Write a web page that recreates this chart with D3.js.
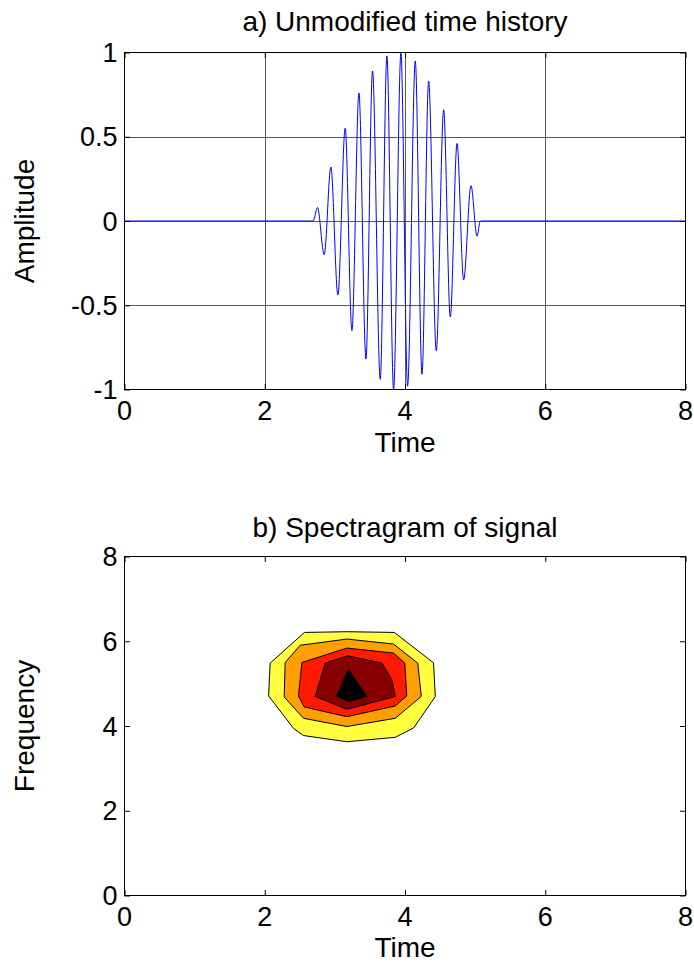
<!DOCTYPE html>
<html>
<head>
<meta charset="utf-8">
<script src="https://cdn.jsdelivr.net/npm/d3@7/dist/d3.min.js"></script>
<style>
  html, body { margin: 0; padding: 0; background: #fff; }
  svg { display: block; }
  text { font-family: "Liberation Sans", Arial, Helvetica, sans-serif; fill: #000; }
</style>
</head>
<body>
<svg id="fig" width="694" height="963"></svg>
<script>
// ---- Time history: turning points of the windowed 5 Hz burst ----
const signalTime = [0, 2.69, 2.752, 2.848, 2.943, 3.043, 3.147, 3.243, 3.343, 3.443,
  3.537, 3.647, 3.742, 3.837, 3.942, 4.037, 4.147, 4.242, 4.337, 4.446,
  4.551, 4.646, 4.742, 4.836, 4.941, 5.027, 5.074, 8];
const signalAmp = [0, 0, 0.08, -0.2, 0.32, -0.44, 0.55, -0.65, 0.76, -0.82,
  0.89, -0.94, 0.98, -1.0, 1.0, -0.98, 0.95, -0.91, 0.83, -0.77,
  0.66, -0.57, 0.46, -0.35, 0.21, -0.09, 0, 0];

// ---- Spectrogram: filled contour bands, outer (lowest level) to inner ----
const contourLevel1 = [[2.566, 6.208], [3.171, 6.225], [3.847, 6.208], [4.407, 5.491], [4.432, 4.694],
  [4.122, 3.953], [3.861, 3.733], [3.171, 3.628], [2.552, 3.775], [2.409, 3.946], [2.055, 4.710], [2.077, 5.484]];
const contourLevel2 = [[2.291, 5.498], [2.505, 5.905], [3.171, 6.052], [3.837, 5.934], [4.182, 5.484],
  [4.232, 4.698], [3.861, 4.182], [3.171, 3.988], [2.552, 4.182], [2.277, 4.686]];
const contourLevel3 = [[2.529, 5.498], [3.171, 5.839], [3.837, 5.721], [3.997, 5.484], [4.025, 4.710],
  [3.861, 4.473], [3.171, 4.220], [2.562, 4.450], [2.481, 4.710]];
const contourLevel4 = [[2.862, 5.484], [3.183, 5.657], [3.671, 5.484], [3.814, 5.089], [3.861, 4.698],
  [3.171, 4.395], [2.719, 4.698]];
const contourLevel5 = [[3.190, 5.342], [3.457, 4.698], [3.190, 4.575], [3.023, 4.710]];
const contourLevels = [contourLevel1, contourLevel2, contourLevel3, contourLevel4, contourLevel5];
const contourColors = ["#ffff40", "#ffa000", "#ff1a00", "#860000", "#000000"];

// ---- Axis ticks and text ----
const timeTicks = [0, 2, 4, 6, 8];
const ampTicks = [-1, -0.5, 0, 0.5, 1];
const freqTicks = [0, 2, 4, 6, 8];
const titleTop = "a) Unmodified time history";
const titleBottom = "b) Spectragram of signal";
const xLabel = "Time";
const yLabelTop = "Amplitude";
const yLabelBottom = "Frequency";

const svg = d3.select("#fig");
const tickFont = 27, labelFont = 28, tickLen = 5.5;

function makePanel(box, xDomain, yDomain, xTicks, yTicks, grid) {
  const x = d3.scaleLinear().domain(xDomain).range([box.x0, box.x1]);
  const y = d3.scaleLinear().domain(yDomain).range([box.y1, box.y0]);
  const g = svg.append("g");
  const clipId = "clip" + Math.round(box.y0);
  svg.append("clipPath").attr("id", clipId)
    .append("rect").attr("x", box.x0).attr("y", box.y0)
    .attr("width", box.x1 - box.x0).attr("height", box.y1 - box.y0);
  const gridG = g.append("g");
  if (grid) {
    gridG.selectAll("line.gx").data(xTicks.slice(1, -1)).join("line")
      .attr("x1", d => Math.round(x(d)) + 0.5).attr("x2", d => Math.round(x(d)) + 0.5)
      .attr("y1", box.y0).attr("y2", box.y1)
      .attr("stroke", "#5a5a5a").attr("stroke-width", 1);
    gridG.selectAll("line.gy").data(yTicks.slice(1, -1)).join("line")
      .attr("y1", d => Math.round(y(d)) + 0.5).attr("y2", d => Math.round(y(d)) + 0.5)
      .attr("x1", box.x0).attr("x2", box.x1)
      .attr("stroke", "#5a5a5a").attr("stroke-width", 1);
  }
  const plot = g.append("g").attr("clip-path", `url(#${clipId})`);
  const frame = g.append("g");
  // inward ticks on all four sides
  const axB = d3.axisTop(x).tickValues(xTicks).tickSize(tickLen).tickFormat("");
  const axT = d3.axisBottom(x).tickValues(xTicks).tickSize(tickLen).tickFormat("");
  const axL = d3.axisRight(y).tickValues(yTicks).tickSize(tickLen).tickFormat("");
  const axR = d3.axisLeft(y).tickValues(yTicks).tickSize(tickLen).tickFormat("");
  [[axB, `translate(0,${box.y1})`], [axT, `translate(0,${box.y0})`],
   [axL, `translate(${box.x0},0)`], [axR, `translate(${box.x1},0)`]].forEach(([ax, tr]) => {
    const a = frame.append("g").attr("transform", tr).call(ax);
    a.select(".domain").remove();
    a.selectAll("line").attr("stroke", "#000");
  });
  frame.append("rect").attr("x", box.x0).attr("y", box.y0)
    .attr("width", box.x1 - box.x0).attr("height", box.y1 - box.y0)
    .attr("fill", "none").attr("stroke", "#000").attr("stroke-width", 1);
  // tick labels
  frame.selectAll("text.xt").data(xTicks).join("text")
    .attr("x", d => x(d)).attr("y", box.y1 + 30.5)
    .attr("text-anchor", "middle").attr("font-size", tickFont)
    .text(d => String(d));
  frame.selectAll("text.yt").data(yTicks).join("text")
    .attr("x", box.x0 - 7).attr("y", d => y(d) + 0.36 * tickFont)
    .attr("text-anchor", "end").attr("font-size", tickFont)
    .text(d => String(d));
  return { x, y, plot, frame };
}

// ---------- a) time history ----------
const topBox = { x0: 124.5, x1: 685.5, y0: 52.5, y1: 389.5 };
const pa = makePanel(topBox, [0, 8], [-1, 1], timeTicks, ampTicks, true);
const signalPts = signalTime.map((t, i) => [t, signalAmp[i]]);
pa.plot.append("path")
  .datum(signalPts)
  .attr("fill", "none").attr("stroke", "#0000ff").attr("stroke-width", 1)
  .attr("d", d3.line().x(d => pa.x(d[0])).y(d => pa.y(d[1])).curve(d3.curveMonotoneX));

svg.append("text").attr("x", (topBox.x0 + topBox.x1) / 2).attr("y", 31)
  .attr("text-anchor", "middle").attr("font-size", labelFont).text(titleTop);
svg.append("text").attr("x", (topBox.x0 + topBox.x1) / 2).attr("y", topBox.y1 + 62.5)
  .attr("text-anchor", "middle").attr("font-size", labelFont).text(xLabel);
svg.append("text")
  .attr("transform", `translate(34,${(topBox.y0 + topBox.y1) / 2}) rotate(-90)`)
  .attr("text-anchor", "middle").attr("font-size", labelFont).text(yLabelTop);

// ---------- b) spectrogram ----------
const botBox = { x0: 124.5, x1: 685.5, y0: 556.5, y1: 895.5 };
const pb = makePanel(botBox, [0, 8], [0, 8], timeTicks, freqTicks, false);
const bandLine = d3.line().x(d => pb.x(d[0])).y(d => pb.y(d[1])).curve(d3.curveLinearClosed);
pb.plot.selectAll("path.band").data(contourLevels).join("path")
  .attr("class", "band")
  .attr("d", d => bandLine(d))
  .attr("fill", (d, i) => contourColors[i])
  .attr("stroke", "#000").attr("stroke-width", 1).attr("stroke-linejoin", "round");

svg.append("text").attr("x", (botBox.x0 + botBox.x1) / 2).attr("y", 536.5)
  .attr("text-anchor", "middle").attr("font-size", labelFont).text(titleBottom);
svg.append("text").attr("x", (botBox.x0 + botBox.x1) / 2).attr("y", botBox.y1 + 61.5)
  .attr("text-anchor", "middle").attr("font-size", labelFont).text(xLabel);
svg.append("text")
  .attr("transform", `translate(34,${(botBox.y0 + botBox.y1) / 2}) rotate(-90)`)
  .attr("text-anchor", "middle").attr("font-size", labelFont).text(yLabelBottom);
</script>
</body>
</html>
